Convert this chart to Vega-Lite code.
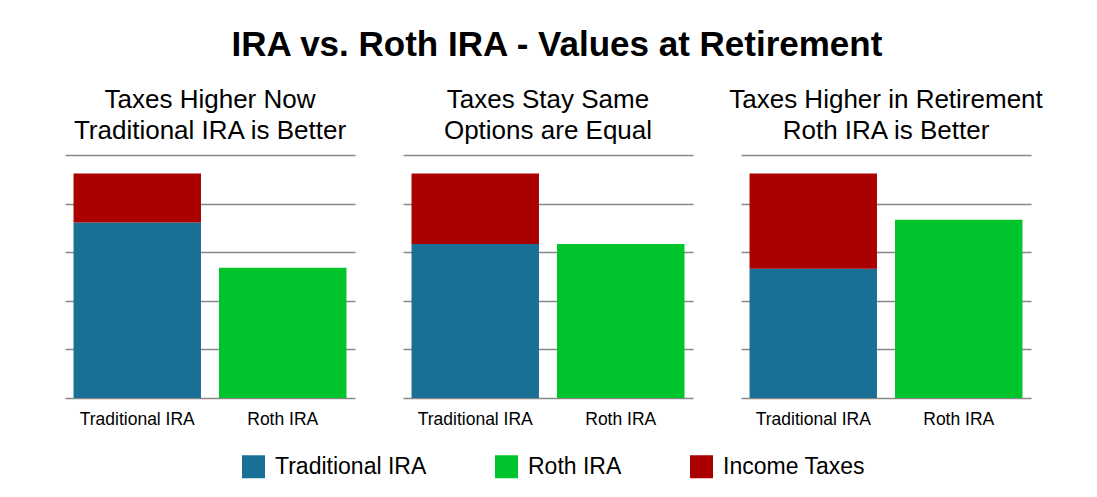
{
  "$schema": "https://vega.github.io/schema/vega-lite/v6.json",
  "background": "white",
  "padding": {"left": 65, "top": 28, "right": 10, "bottom": 5},
  "title": {
    "text": "IRA vs. Roth IRA - Values at Retirement",
    "fontSize": 35,
    "fontWeight": "bold",
    "font": "Liberation Sans",
    "color": "#000000",
    "anchor": "middle",
    "dx": 3,
    "offset": 24
  },
  "data": {
    "values": [
      {"scenario": "now", "account": "Traditional IRA", "component": "Traditional IRA", "value": 3.61},
      {"scenario": "now", "account": "Traditional IRA", "component": "Income Taxes", "value": 1.01},
      {"scenario": "now", "account": "Roth IRA", "component": "Roth IRA", "value": 2.68},
      {"scenario": "same", "account": "Traditional IRA", "component": "Traditional IRA", "value": 3.17},
      {"scenario": "same", "account": "Traditional IRA", "component": "Income Taxes", "value": 1.45},
      {"scenario": "same", "account": "Roth IRA", "component": "Roth IRA", "value": 3.17},
      {"scenario": "later", "account": "Traditional IRA", "component": "Traditional IRA", "value": 2.66},
      {"scenario": "later", "account": "Traditional IRA", "component": "Income Taxes", "value": 1.96},
      {"scenario": "later", "account": "Roth IRA", "component": "Roth IRA", "value": 3.67}
    ]
  },
  "spacing": 48,
  "bounds": "flush",
  "hconcat": [
    {
      "title": {"text": ["Taxes Higher Now", "Traditional IRA is Better"]},
      "transform": [{"filter": "datum.scenario === 'now'"}],
      "width": 290,
      "height": 243,
      "mark": {"type": "bar"},
      "encoding": {
        "x": {"field": "account", "type": "nominal", "sort": ["Traditional IRA", "Roth IRA"], "scale": {"paddingInner": 0.124, "paddingOuter": 0.0586}, "axis": {"title": null}},
        "y": {"field": "value", "type": "quantitative", "aggregate": "sum", "stack": "zero", "scale": {"domain": [0, 5], "nice": false}, "axis": {"title": null}},
        "color": {"field": "component", "type": "nominal", "sort": ["Traditional IRA", "Roth IRA", "Income Taxes"], "scale": {"domain": ["Traditional IRA", "Roth IRA", "Income Taxes"], "range": ["#1a7094", "#00c42b", "#aa0000"]}, "legend": {"title": null}}
      }
    },
    {
      "title": {"text": ["Taxes Stay Same", "Options are Equal"]},
      "transform": [{"filter": "datum.scenario === 'same'"}],
      "width": 290,
      "height": 243,
      "mark": {"type": "bar"},
      "encoding": {
        "x": {"field": "account", "type": "nominal", "sort": ["Traditional IRA", "Roth IRA"], "scale": {"paddingInner": 0.124, "paddingOuter": 0.0586}, "axis": {"title": null}},
        "y": {"field": "value", "type": "quantitative", "aggregate": "sum", "stack": "zero", "scale": {"domain": [0, 5], "nice": false}, "axis": {"title": null}},
        "color": {"field": "component", "type": "nominal", "sort": ["Traditional IRA", "Roth IRA", "Income Taxes"], "scale": {"domain": ["Traditional IRA", "Roth IRA", "Income Taxes"], "range": ["#1a7094", "#00c42b", "#aa0000"]}, "legend": {"title": null}}
      }
    },
    {
      "title": {"text": ["Taxes Higher in Retirement", "Roth IRA is Better"]},
      "transform": [{"filter": "datum.scenario === 'later'"}],
      "width": 290,
      "height": 243,
      "mark": {"type": "bar"},
      "encoding": {
        "x": {"field": "account", "type": "nominal", "sort": ["Traditional IRA", "Roth IRA"], "scale": {"paddingInner": 0.124, "paddingOuter": 0.0586}, "axis": {"title": null}},
        "y": {"field": "value", "type": "quantitative", "aggregate": "sum", "stack": "zero", "scale": {"domain": [0, 5], "nice": false}, "axis": {"title": null}},
        "color": {"field": "component", "type": "nominal", "sort": ["Traditional IRA", "Roth IRA", "Income Taxes"], "scale": {"domain": ["Traditional IRA", "Roth IRA", "Income Taxes"], "range": ["#1a7094", "#00c42b", "#aa0000"]}, "legend": {"title": null}}
      }
    }
  ],
  "resolve": {"scale": {"x": "independent", "y": "independent"}},
  "config": {
    "font": "Liberation Sans",
    "view": {"stroke": null},
    "title": {"fontSize": 26, "fontWeight": "normal", "font": "Liberation Sans", "color": "#000000", "lineHeight": 31, "anchor": "middle", "offset": 11},
    "axisX": {"domain": false, "ticks": false, "labelFontSize": 17.5, "labelColor": "#000000", "labelPadding": 12, "labelAngle": 0, "grid": false},
    "axisY": {"domain": false, "ticks": false, "labels": false, "grid": true, "gridColor": "#888888", "gridWidth": 1.5, "values": [0, 1, 2, 3, 4, 5]},
    "legend": {"orient": "bottom", "direction": "horizontal", "symbolType": "square", "symbolSize": 529, "symbolStrokeWidth": 0, "symbolOpacity": 1, "labelFontSize": 23, "labelColor": "#000000", "labelLimit": 300, "labelOffset": 10, "columnPadding": 68, "offset": 27, "layout": {"bottom": {"anchor": "middle"}}}
  }
}
